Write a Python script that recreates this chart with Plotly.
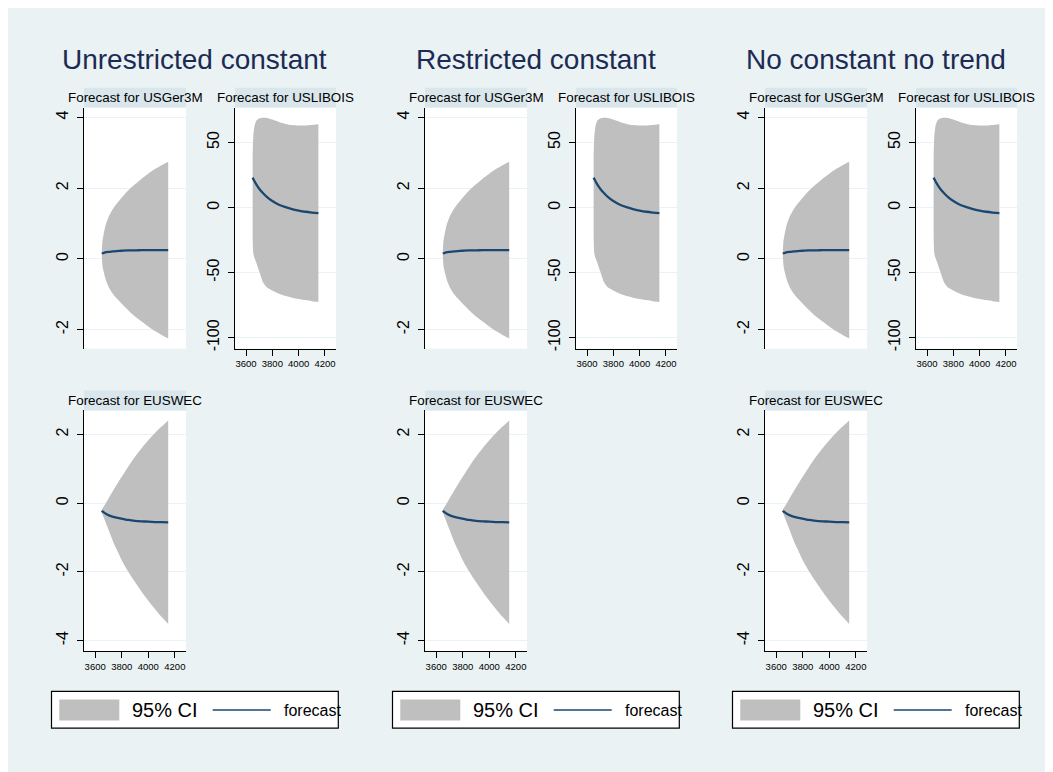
import plotly.graph_objects as go

# page places the figure 8px from the top-left corner of the window
OFF = 8
W, H = 1053, 772

# ---------------- data ----------------
column_titles = ["Unrestricted constant", "Restricted constant", "No constant no trend"]
series_names = ["USGer3M", "USLIBOIS", "EUSWEC"]

steps = [3650, 3655, 3665, 3680, 3700, 3730, 3760, 3800, 3850, 3900, 3950, 4000, 4050, 4100, 4150]

usger_fc = [0.15, 0.16, 0.17, 0.19, 0.20, 0.21, 0.22, 0.23, 0.24, 0.24, 0.25, 0.25, 0.25, 0.25, 0.25]
usger_up = [0.20, 0.51, 0.72, 0.97, 1.18, 1.39, 1.55, 1.73, 1.94, 2.11, 2.27, 2.41, 2.54, 2.65, 2.75]
usger_lo = [0.10, -0.19, -0.38, -0.59, -0.78, -0.97, -1.11, -1.27, -1.46, -1.63, -1.77, -1.91, -2.04, -2.15, -2.25]

uslib_fc = [23.0, 22.0, 20.0, 17.5, 14.5, 11.0, 8.0, 5.0, 2.2, 0.3, -1.2, -2.3, -3.2, -3.8, -4.3]
uslib_up = [40.0, 54.0, 63.0, 67.0, 68.5, 69.0, 68.8, 67.6, 65.8, 64.3, 63.4, 63.0, 63.1, 63.5, 64.0]
uslib_lo = [-22.0, -35.0, -39.0, -43.0, -49.0, -57.5, -61.5, -63.8, -66.3, -68.0, -69.2, -70.2, -71.1, -71.9, -72.6]

euswec_fc = [-0.22, -0.24, -0.27, -0.31, -0.35, -0.39, -0.42, -0.45, -0.49, -0.515, -0.53, -0.54, -0.55, -0.555, -0.56]
euswec_up = [-0.20, -0.16, -0.10, 0.00, 0.13, 0.33, 0.52, 0.77, 1.07, 1.35, 1.60, 1.83, 2.04, 2.23, 2.41]
euswec_lo = [-0.27, -0.32, -0.42, -0.57, -0.77, -1.07, -1.33, -1.66, -2.00, -2.30, -2.58, -2.84, -3.08, -3.31, -3.52]

x_ticks = [3600, 3800, 4000, 4200]
y_ticks = {
    "USGer3M": [-2, 0, 2, 4],
    "USLIBOIS": [-100, -50, 0, 50],
    "EUSWEC": [-4, -2, 0, 2],
}
y_ranges = {
    "USGer3M": [-2.54, 4.28],
    "USLIBOIS": [-108.4, 76.8],
    "EUSWEC": [-4.32, 2.70],
}
x_range = [3516, 4284]

series_data = {
    "USGer3M": (usger_fc, usger_lo, usger_up),
    "USLIBOIS": (uslib_fc, uslib_lo, uslib_up),
    "EUSWEC": (euswec_fc, euswec_lo, euswec_up),
}

legend_labels = ["95% CI", "forecast"]

# ---------------- styling ----------------
FONT = "Liberation Sans, Arial, Helvetica, sans-serif"
BG = "#eaf2f3"
STRIP = "#d9e6eb"
BAND = "#bfbfbf"
LINE = "#1a476f"
TITLE_C = "#1c2b53"

col_offsets = [0, 341, 681]
# screen-pixel boxes (x0, x1, y0, y1) for each panel within a column
panel_px = {
    "USGer3M": (84, 186, 108, 350),
    "USLIBOIS": (235, 336, 108, 350),
    "EUSWEC": (84, 186, 412, 654),
}
show_xaxis = {"USGer3M": False, "USLIBOIS": True, "EUSWEC": True}


def px(x):
    return (x - OFF) / W


def py(y):
    return 1 - (y - OFF) / H


fig = go.Figure()
layout = dict(
    width=W, height=H, autosize=False,
    margin=dict(l=0, r=0, t=0, b=0),
    paper_bgcolor=BG, plot_bgcolor="white",
    showlegend=False,
    font=dict(family=FONT, color="black"),
)
shapes = []
annotations = []

k = 0
for ci, off in enumerate(col_offsets):
    # column title
    annotations.append(dict(
        text=column_titles[ci], x=px(194.5 + off), y=py(60), xref="paper", yref="paper",
        xanchor="center", yanchor="middle", showarrow=False,
        font=dict(size=28, color=TITLE_C, family=FONT)))
    for name in series_names:
        k += 1
        x0, x1, y0, y1 = panel_px[name]
        x0 += off
        x1 += off
        xa = "xaxis" if k == 1 else f"xaxis{k}"
        ya = "yaxis" if k == 1 else f"yaxis{k}"
        xr = "x" if k == 1 else f"x{k}"
        yr = "y" if k == 1 else f"y{k}"
        fc, lo, up = series_data[name]
        # CI band: lower edge, then upper edge filled down to it
        fig.add_trace(go.Scatter(
            x=steps, y=lo, mode="lines",
            line=dict(width=0, color=BAND, shape="spline", smoothing=0.6),
            xaxis=xr, yaxis=yr, hoverinfo="skip"))
        fig.add_trace(go.Scatter(
            x=steps, y=up, mode="lines", fill="tonexty", fillcolor=BAND,
            line=dict(width=0, color=BAND, shape="spline", smoothing=0.6),
            xaxis=xr, yaxis=yr, hoverinfo="skip"))
        # forecast line
        fig.add_trace(go.Scatter(
            x=steps, y=fc, mode="lines",
            line=dict(color=LINE, width=2.3, shape="spline", smoothing=0.6),
            xaxis=xr, yaxis=yr))
        layout[xa] = dict(
            domain=[px(x0), px(x1)], anchor=yr, range=x_range,
            tickvals=x_ticks, ticktext=[str(v) for v in x_ticks],
            ticks="outside" if show_xaxis[name] else "", ticklen=6, tickcolor="black",
            showticklabels=show_xaxis[name], showline=show_xaxis[name],
            linecolor="black", linewidth=1, showgrid=False, zeroline=False,
            tickfont=dict(size=9.5, family=FONT, color="black"),
            fixedrange=True)
        layout[ya] = dict(
            domain=[py(y1), py(y0)], anchor=xr, range=y_ranges[name],
            tickvals=y_ticks[name], ticktext=[str(v) for v in y_ticks[name]],
            tickangle=-90, ticks="outside", ticklen=6, tickcolor="black",
            ticklabelstandoff=3,
            showline=True, linecolor="black", linewidth=1,
            showgrid=True, gridcolor=BG, gridwidth=1, zeroline=False,
            tickfont=dict(size=16, family=FONT, color="black"),
            fixedrange=True)
        # subtitle strip
        sy0, sy1 = y0 - 20, y0
        shapes.append(dict(type="rect", xref="paper", yref="paper",
                           x0=px(x0), x1=px(x1), y0=py(sy1), y1=py(sy0),
                           fillcolor=STRIP, line=dict(width=0), layer="below"))
        annotations.append(dict(
            text=f"Forecast for {name}", x=px((x0 + x1) / 2), y=py(y0 - 10),
            xref="paper", yref="paper", xanchor="center", yanchor="middle",
            showarrow=False, font=dict(size=13.4, color="black", family=FONT)))

    # legend for the column
    shapes.append(dict(type="rect", xref="paper", yref="paper",
                       x0=px(51.5 + off), x1=px(338.3 + off), y0=py(731), y1=py(694),
                       fillcolor="white", line=dict(color="black", width=1.2), layer="below"))
    shapes.append(dict(type="rect", xref="paper", yref="paper",
                       x0=px(59.3 + off), x1=px(119.3 + off), y0=py(723.3), y1=py(702.3),
                       fillcolor=BAND, line=dict(width=0)))
    shapes.append(dict(type="line", xref="paper", yref="paper",
                       x0=px(212.7 + off), x1=px(270.7 + off), y0=py(712.7), y1=py(712.7),
                       line=dict(color=LINE, width=1.5)))
    annotations.append(dict(
        text=legend_labels[0], x=px(129.5 + off), y=py(713), xref="paper", yref="paper",
        xanchor="left", yanchor="middle", showarrow=False,
        font=dict(size=20, color="black", family=FONT)))
    annotations.append(dict(
        text=legend_labels[1], x=px(281.5 + off), y=py(713), xref="paper", yref="paper",
        xanchor="left", yanchor="middle", showarrow=False,
        font=dict(size=16, color="black", family=FONT)))

layout["shapes"] = shapes
layout["annotations"] = annotations
fig.update_layout(**layout)

fig.write_html("out.html")
